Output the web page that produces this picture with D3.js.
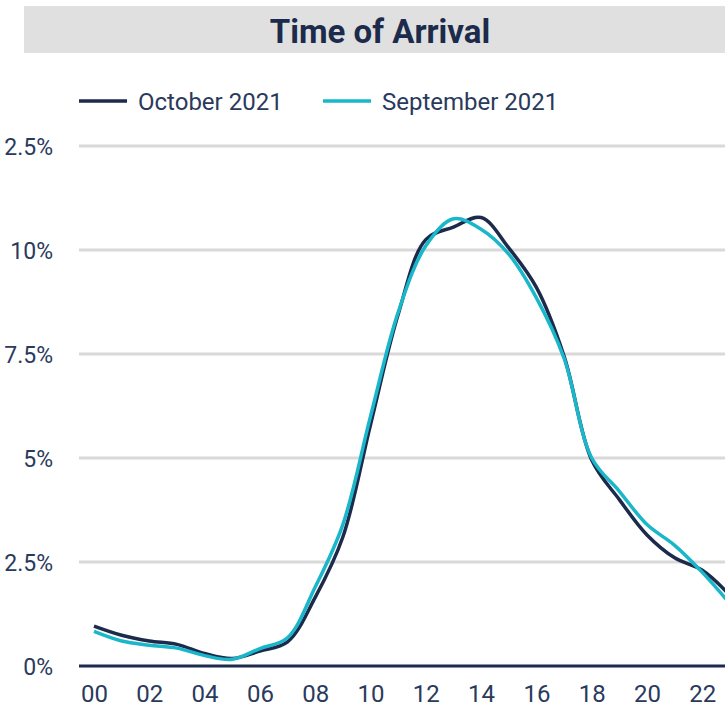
<!DOCTYPE html>
<html>
<head>
<meta charset="utf-8">
<script src="https://cdn.jsdelivr.net/npm/d3@7"></script>
<style>
  html, body { margin: 0; padding: 0; background: #ffffff; }
  svg { display: block; font-family: Roboto, "Noto Sans", sans-serif; }
</style>
</head>
<body>
<svg id="chart" width="725" height="710"></svg>
<script>
// Share of arrivals by hour of day (percent)
const hours = d3.range(0, 24);
const october2021 = [0.96, 0.74, 0.60, 0.52, 0.30, 0.18, 0.36, 0.58, 1.65, 3.1, 5.8, 8.45,
                     10.25, 10.55, 10.78, 10.05, 9.1, 7.45, 4.95, 4.0, 3.15, 2.6, 2.3, 1.7];
const september2021 = [0.83, 0.60, 0.50, 0.43, 0.25, 0.16, 0.42, 0.68, 1.9, 3.4, 6.0, 8.5,
                       10.1, 10.75, 10.5, 9.9, 8.85, 7.4, 5.0, 4.2, 3.4, 2.9, 2.25, 1.5];
const seriesNames = ["October 2021", "September 2021"];
const yTicks = [0, 2.5, 5, 7.5, 10, 12.5];
const xTicks = [0, 2, 4, 6, 8, 10, 12, 14, 16, 18, 20, 22];
const chartTitle = "Time of Arrival";

const navy = "#1c2b4b";
const cyan = "#19b7c9";
const textColor = "#2a3a5c";

const svg = d3.select("#chart");
const W = 725;

const x = d3.scaleLinear().domain([0, 23]).range([94, 94 + 23 * 27.65]);
const y = d3.scaleLinear().domain([0, 12.5]).range([666, 146]);

// Title banner
svg.append("rect")
  .attr("x", 24).attr("y", 6).attr("width", W - 24).attr("height", 47)
  .attr("fill", "#e0e0e0");
svg.append("text")
  .attr("x", 380).attr("y", 43)
  .attr("text-anchor", "middle")
  .attr("font-size", 33).attr("font-weight", 700)
  .attr("fill", navy)
  .text(chartTitle);

// Legend
const legend = svg.append("g");
const legendItems = [
  { name: seriesNames[0], color: navy, x0: 79 },
  { name: seriesNames[1], color: cyan, x0: 323 }
];
legendItems.forEach(d => {
  legend.append("line")
    .attr("x1", d.x0).attr("x2", d.x0 + 48)
    .attr("y1", 101).attr("y2", 101)
    .attr("stroke", d.color).attr("stroke-width", 3.5);
  legend.append("text")
    .attr("x", d.x0 + 59).attr("y", 109.5)
    .attr("font-size", 24).attr("fill", textColor)
    .text(d.name);
});

// Horizontal gridlines and y labels (the top label runs past the left edge)
const yAxis = d3.axisLeft(y)
  .tickValues(yTicks)
  .tickSize(0)
  .tickPadding(0)
  .tickFormat(d => d + "%");
const yg = svg.append("g").attr("transform", "translate(53,0)").call(yAxis);
yg.select(".domain").remove();
yg.selectAll("text")
  .attr("font-size", 23).attr("font-family", "Roboto, sans-serif")
  .attr("fill", textColor).attr("dy", "0.36em");

svg.append("g")
  .selectAll("line")
  .data(yTicks.filter(t => t > 0))
  .join("line")
  .attr("x1", 79).attr("x2", W)
  .attr("y1", d => y(d)).attr("y2", d => y(d))
  .attr("stroke", "#d9d9d9").attr("stroke-width", 3);

// X axis baseline and hour labels
const xAxis = d3.axisBottom(x)
  .tickValues(xTicks)
  .tickSize(0)
  .tickPadding(0)
  .tickFormat(d3.format("02d"));
const xg = svg.append("g").attr("transform", `translate(0,${y(0)})`).call(xAxis);
xg.select(".domain").remove();
xg.selectAll("text")
  .attr("font-size", 24).attr("font-family", "Roboto, sans-serif")
  .attr("fill", textColor).attr("dy", "1.5em");

svg.append("line")
  .attr("x1", 79).attr("x2", W)
  .attr("y1", y(0)).attr("y2", y(0))
  .attr("stroke", navy).attr("stroke-width", 3);

// Series lines
const line = d3.line()
  .x((d, i) => x(hours[i]))
  .y(d => y(d))
  .curve(d3.curveCatmullRom.alpha(0.5));

svg.append("path")
  .datum(october2021)
  .attr("fill", "none").attr("stroke", navy).attr("stroke-width", 3.5)
  .attr("d", line);

svg.append("path")
  .datum(september2021)
  .attr("fill", "none").attr("stroke", cyan).attr("stroke-width", 3.5)
  .attr("d", line);
</script>
</body>
</html>
